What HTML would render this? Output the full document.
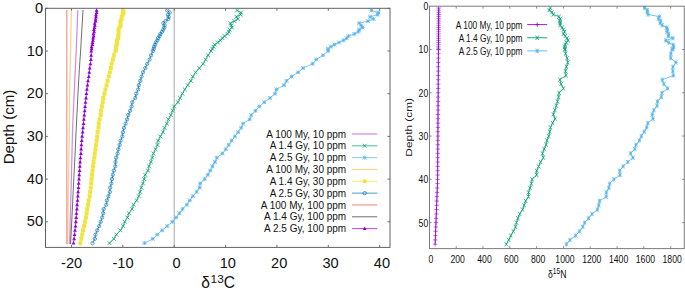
<!DOCTYPE html><html><head><meta charset="utf-8"><title>plot</title><style>html,body{margin:0;padding:0;background:#fff}</style></head><body><svg width="685" height="291" viewBox="0 0 685 291" style="display:block;font-family:'Liberation Sans',Arial,sans-serif">
<rect width="685" height="291" fill="#fff"/>
<line x1="174.2" y1="8.3" x2="174.2" y2="247.4" stroke="#a8a8a8" stroke-width="1"/>
<path d="M71.46 247.4v-2.6M71.46 8.3v2.6M122.83 247.4v-2.6M122.83 8.3v2.6M174.2 247.4v-2.6M174.2 8.3v2.6M225.57 247.4v-2.6M225.57 8.3v2.6M276.94 247.4v-2.6M276.94 8.3v2.6M328.31 247.4v-2.6M328.31 8.3v2.6M379.68 247.4v-2.6M379.68 8.3v2.6M45.5 8.3h2.6M390 8.3h-2.6M45.5 51h2.6M390 51h-2.6M45.5 93.69h2.6M390 93.69h-2.6M45.5 136.39h2.6M390 136.39h-2.6M45.5 179.09h2.6M390 179.09h-2.6M45.5 221.78h2.6M390 221.78h-2.6" stroke="#626262" stroke-width="0.9" fill="none"/>
<polyline points="77.83,10 77.71,13 77.59,16 77.47,19 77.35,22 77.24,25 77.12,28 77,31 76.88,34 76.76,37 76.64,40 76.52,43 76.4,46 76.28,49 76.15,52 76,55 75.85,58 75.7,61 75.55,64 75.4,67 75.25,70 75.1,73 74.97,76 74.83,79 74.7,82 74.57,85 74.43,88 74.3,91 74.17,94 74.03,97 73.89,100 73.75,103 73.61,106 73.48,109 73.34,112 73.2,115 73.06,118 72.92,121 72.78,124 72.65,127 72.55,130 72.48,133 72.41,136 72.34,139 72.27,142 72.2,145 72.13,148 72.06,151 71.99,154 71.92,157 71.85,160 71.77,163 71.69,166 71.62,169 71.54,172 71.46,175 71.39,178 71.31,181 71.23,184 71.15,187 71.08,190 71,193 70.92,196 70.84,199 70.75,202 70.67,205 70.59,208 70.51,211 70.42,214 70.34,217 70.26,220 70.18,223 70.09,226 70.01,229 69.93,232 69.85,235 69.76,238 69.68,241 69.6,244" fill="none" stroke="#9400D3" stroke-width="1.25" stroke-opacity="0.45" stroke-linejoin="round"/>
<polyline points="237.1,10.43 240.9,12.57 240.5,14.7 236.4,16.84 237.8,18.97 234.4,21.11 230.5,23.24 231.3,25.38 231.9,27.51 229.5,29.65 229,31.78 227.5,33.92 224.5,36.05 222.5,38.19 220.5,40.32 217.8,42.46 214.8,44.59 213.5,46.73 212.5,48.86 211,51 208.05,55.27 205.71,59.54 203.17,63.81 199.38,68.08 195.59,72.34 192.94,76.61 190.78,80.88 187.78,85.15 184.85,89.42 182.38,93.69 180.12,97.96 177.97,102.23 174.06,106.5 172.58,110.77 170.78,115.04 168.41,119.31 166.82,123.58 164.5,127.85 163.08,132.12 160.31,136.39 158.16,140.66 157.5,144.93 155.54,149.2 153.42,153.47 152.32,157.74 150.76,162.01 149.09,166.28 147.89,170.55 145.22,174.82 144.22,179.09 142.94,183.36 141.26,187.63 140.14,191.89 138.67,196.16 136.68,200.43 133.5,204.7 132.16,208.97 128.95,213.24 127.34,217.51 124.69,221.78 123.18,226.05 120.44,230.32 116.42,234.59 113.81,238.86 109.42,243.13" fill="none" stroke="#009E73" stroke-width="0.8" stroke-opacity="0.9" stroke-linejoin="round"/>
<path d="M235.2 8.53L239 12.33M235.2 12.33L239 8.53M239 10.67L242.8 14.47M239 14.47L242.8 10.67M238.6 12.8L242.4 16.6M238.6 16.6L242.4 12.8M234.5 14.94L238.3 18.74M234.5 18.74L238.3 14.94M235.9 17.07L239.7 20.87M235.9 20.87L239.7 17.07M232.5 19.21L236.3 23.01M232.5 23.01L236.3 19.21M228.6 21.34L232.4 25.14M228.6 25.14L232.4 21.34M229.4 23.48L233.2 27.28M229.4 27.28L233.2 23.48M230 25.61L233.8 29.41M230 29.41L233.8 25.61M227.6 27.75L231.4 31.55M227.6 31.55L231.4 27.75M227.1 29.88L230.9 33.68M227.1 33.68L230.9 29.88M225.6 32.02L229.4 35.82M225.6 35.82L229.4 32.02M222.6 34.15L226.4 37.95M222.6 37.95L226.4 34.15M220.6 36.29L224.4 40.09M220.6 40.09L224.4 36.29M218.6 38.42L222.4 42.22M218.6 42.22L222.4 38.42M215.9 40.56L219.7 44.36M215.9 44.36L219.7 40.56M212.9 42.69L216.7 46.49M212.9 46.49L216.7 42.69M211.6 44.83L215.4 48.63M211.6 48.63L215.4 44.83M210.6 46.96L214.4 50.76M210.6 50.76L214.4 46.96M209.1 49.1L212.9 52.9M209.1 52.9L212.9 49.1M206.15 53.37L209.95 57.17M206.15 57.17L209.95 53.37M203.81 57.64L207.61 61.44M203.81 61.44L207.61 57.64M201.27 61.91L205.07 65.71M201.27 65.71L205.07 61.91M197.48 66.17L201.28 69.98M197.48 69.98L201.28 66.17M193.69 70.44L197.49 74.24M193.69 74.24L197.49 70.44M191.04 74.71L194.84 78.51M191.04 78.51L194.84 74.71M188.88 78.98L192.68 82.78M188.88 82.78L192.68 78.98M185.88 83.25L189.68 87.05M185.88 87.05L189.68 83.25M182.95 87.52L186.75 91.32M182.95 91.32L186.75 87.52M180.48 91.79L184.28 95.59M180.48 95.59L184.28 91.79M178.22 96.06L182.02 99.86M178.22 99.86L182.02 96.06M176.07 100.33L179.87 104.13M176.07 104.13L179.87 100.33M172.16 104.6L175.96 108.4M172.16 108.4L175.96 104.6M170.68 108.87L174.48 112.67M170.68 112.67L174.48 108.87M168.88 113.14L172.68 116.94M168.88 116.94L172.68 113.14M166.51 117.41L170.31 121.21M166.51 121.21L170.31 117.41M164.92 121.68L168.72 125.48M164.92 125.48L168.72 121.68M162.6 125.95L166.4 129.75M162.6 129.75L166.4 125.95M161.18 130.22L164.98 134.02M161.18 134.02L164.98 130.22M158.41 134.49L162.21 138.29M158.41 138.29L162.21 134.49M156.26 138.76L160.06 142.56M156.26 142.56L160.06 138.76M155.6 143.03L159.4 146.83M155.6 146.83L159.4 143.03M153.64 147.3L157.44 151.1M153.64 151.1L157.44 147.3M151.52 151.57L155.32 155.37M151.52 155.37L155.32 151.57M150.42 155.84L154.22 159.64M150.42 159.64L154.22 155.84M148.86 160.11L152.66 163.91M148.86 163.91L152.66 160.11M147.19 164.38L150.99 168.18M147.19 168.18L150.99 164.38M145.99 168.65L149.79 172.45M145.99 172.45L149.79 168.65M143.32 172.92L147.12 176.72M143.32 176.72L147.12 172.92M142.32 177.19L146.12 180.99M142.32 180.99L146.12 177.19M141.04 181.46L144.84 185.26M141.04 185.26L144.84 181.46M139.36 185.73L143.16 189.53M139.36 189.53L143.16 185.73M138.24 189.99L142.04 193.79M138.24 193.79L142.04 189.99M136.77 194.26L140.57 198.06M136.77 198.06L140.57 194.26M134.78 198.53L138.58 202.33M134.78 202.33L138.58 198.53M131.6 202.8L135.4 206.6M131.6 206.6L135.4 202.8M130.26 207.07L134.06 210.87M130.26 210.87L134.06 207.07M127.05 211.34L130.85 215.14M127.05 215.14L130.85 211.34M125.44 215.61L129.24 219.41M125.44 219.41L129.24 215.61M122.79 219.88L126.59 223.68M122.79 223.68L126.59 219.88M121.28 224.15L125.08 227.95M121.28 227.95L125.08 224.15M118.54 228.42L122.34 232.22M118.54 232.22L122.34 228.42M114.52 232.69L118.32 236.49M114.52 236.49L118.32 232.69M111.91 236.96L115.71 240.76M111.91 240.76L115.71 236.96M107.52 241.23L111.32 245.03M107.52 245.03L111.32 241.23" fill="none" stroke="#009E73" stroke-width="0.8"/>
<polyline points="371.5,10.43 378.3,12.57 377.6,14.7 370.1,16.84 373.5,18.97 368,21.11 359.1,23.24 361.2,25.38 362.5,27.51 359.1,29.65 358.4,31.78 354.3,33.92 348.5,36.05 346.5,38.19 343.5,40.32 339,42.46 334.5,44.59 331,46.73 327.9,48.86 328.2,51 322.94,55.27 316.27,59.54 312.59,63.81 303.06,68.08 298.13,72.34 291.58,76.61 286.52,80.88 284.05,85.15 276.51,89.42 275.06,93.69 270.07,97.96 264.25,102.23 259.31,106.5 255.51,110.77 251.26,115.04 249.73,119.31 243.03,123.58 241.14,127.85 238.15,132.12 234.93,136.39 231.6,140.66 228.66,144.93 225.81,149.2 222.36,153.47 216.88,157.74 214.96,162.01 212.51,166.28 210.25,170.55 207.87,174.82 204.59,179.09 200.16,183.36 199.7,187.63 196.68,191.89 192.9,196.16 189.79,200.43 186.88,204.7 182.54,208.97 179.39,213.24 176.09,217.51 172.25,221.78 167.25,226.05 162.1,230.32 157.22,234.59 152.75,238.86 144.52,243.13" fill="none" stroke="#56B4E9" stroke-width="0.8" stroke-opacity="0.9" stroke-linejoin="round"/>
<path d="M369.6 10.43H373.4M371.5 8.53V12.33M369.6 8.53L373.4 12.33M369.6 12.33L373.4 8.53M376.4 12.57H380.2M378.3 10.67V14.47M376.4 10.67L380.2 14.47M376.4 14.47L380.2 10.67M375.7 14.7H379.5M377.6 12.8V16.6M375.7 12.8L379.5 16.6M375.7 16.6L379.5 12.8M368.2 16.84H372M370.1 14.94V18.74M368.2 14.94L372 18.74M368.2 18.74L372 14.94M371.6 18.97H375.4M373.5 17.07V20.87M371.6 17.07L375.4 20.87M371.6 20.87L375.4 17.07M366.1 21.11H369.9M368 19.21V23.01M366.1 19.21L369.9 23.01M366.1 23.01L369.9 19.21M357.2 23.24H361M359.1 21.34V25.14M357.2 21.34L361 25.14M357.2 25.14L361 21.34M359.3 25.38H363.1M361.2 23.48V27.28M359.3 23.48L363.1 27.28M359.3 27.28L363.1 23.48M360.6 27.51H364.4M362.5 25.61V29.41M360.6 25.61L364.4 29.41M360.6 29.41L364.4 25.61M357.2 29.65H361M359.1 27.75V31.55M357.2 27.75L361 31.55M357.2 31.55L361 27.75M356.5 31.78H360.3M358.4 29.88V33.68M356.5 29.88L360.3 33.68M356.5 33.68L360.3 29.88M352.4 33.92H356.2M354.3 32.02V35.82M352.4 32.02L356.2 35.82M352.4 35.82L356.2 32.02M346.6 36.05H350.4M348.5 34.15V37.95M346.6 34.15L350.4 37.95M346.6 37.95L350.4 34.15M344.6 38.19H348.4M346.5 36.29V40.09M344.6 36.29L348.4 40.09M344.6 40.09L348.4 36.29M341.6 40.32H345.4M343.5 38.42V42.22M341.6 38.42L345.4 42.22M341.6 42.22L345.4 38.42M337.1 42.46H340.9M339 40.56V44.36M337.1 40.56L340.9 44.36M337.1 44.36L340.9 40.56M332.6 44.59H336.4M334.5 42.69V46.49M332.6 42.69L336.4 46.49M332.6 46.49L336.4 42.69M329.1 46.73H332.9M331 44.83V48.63M329.1 44.83L332.9 48.63M329.1 48.63L332.9 44.83M326 48.86H329.8M327.9 46.96V50.76M326 46.96L329.8 50.76M326 50.76L329.8 46.96M326.3 51H330.1M328.2 49.1V52.9M326.3 49.1L330.1 52.9M326.3 52.9L330.1 49.1M321.04 55.27H324.84M322.94 53.37V57.17M321.04 53.37L324.84 57.17M321.04 57.17L324.84 53.37M314.37 59.54H318.17M316.27 57.64V61.44M314.37 57.64L318.17 61.44M314.37 61.44L318.17 57.64M310.69 63.81H314.49M312.59 61.91V65.71M310.69 61.91L314.49 65.71M310.69 65.71L314.49 61.91M301.16 68.08H304.96M303.06 66.17V69.98M301.16 66.17L304.96 69.98M301.16 69.98L304.96 66.17M296.23 72.34H300.03M298.13 70.44V74.24M296.23 70.44L300.03 74.24M296.23 74.24L300.03 70.44M289.68 76.61H293.48M291.58 74.71V78.51M289.68 74.71L293.48 78.51M289.68 78.51L293.48 74.71M284.62 80.88H288.42M286.52 78.98V82.78M284.62 78.98L288.42 82.78M284.62 82.78L288.42 78.98M282.15 85.15H285.95M284.05 83.25V87.05M282.15 83.25L285.95 87.05M282.15 87.05L285.95 83.25M274.61 89.42H278.41M276.51 87.52V91.32M274.61 87.52L278.41 91.32M274.61 91.32L278.41 87.52M273.16 93.69H276.96M275.06 91.79V95.59M273.16 91.79L276.96 95.59M273.16 95.59L276.96 91.79M268.17 97.96H271.97M270.07 96.06V99.86M268.17 96.06L271.97 99.86M268.17 99.86L271.97 96.06M262.35 102.23H266.15M264.25 100.33V104.13M262.35 100.33L266.15 104.13M262.35 104.13L266.15 100.33M257.41 106.5H261.21M259.31 104.6V108.4M257.41 104.6L261.21 108.4M257.41 108.4L261.21 104.6M253.61 110.77H257.41M255.51 108.87V112.67M253.61 108.87L257.41 112.67M253.61 112.67L257.41 108.87M249.36 115.04H253.16M251.26 113.14V116.94M249.36 113.14L253.16 116.94M249.36 116.94L253.16 113.14M247.83 119.31H251.63M249.73 117.41V121.21M247.83 117.41L251.63 121.21M247.83 121.21L251.63 117.41M241.13 123.58H244.93M243.03 121.68V125.48M241.13 121.68L244.93 125.48M241.13 125.48L244.93 121.68M239.24 127.85H243.04M241.14 125.95V129.75M239.24 125.95L243.04 129.75M239.24 129.75L243.04 125.95M236.25 132.12H240.05M238.15 130.22V134.02M236.25 130.22L240.05 134.02M236.25 134.02L240.05 130.22M233.03 136.39H236.83M234.93 134.49V138.29M233.03 134.49L236.83 138.29M233.03 138.29L236.83 134.49M229.7 140.66H233.5M231.6 138.76V142.56M229.7 138.76L233.5 142.56M229.7 142.56L233.5 138.76M226.76 144.93H230.56M228.66 143.03V146.83M226.76 143.03L230.56 146.83M226.76 146.83L230.56 143.03M223.91 149.2H227.71M225.81 147.3V151.1M223.91 147.3L227.71 151.1M223.91 151.1L227.71 147.3M220.46 153.47H224.26M222.36 151.57V155.37M220.46 151.57L224.26 155.37M220.46 155.37L224.26 151.57M214.98 157.74H218.78M216.88 155.84V159.64M214.98 155.84L218.78 159.64M214.98 159.64L218.78 155.84M213.06 162.01H216.86M214.96 160.11V163.91M213.06 160.11L216.86 163.91M213.06 163.91L216.86 160.11M210.61 166.28H214.41M212.51 164.38V168.18M210.61 164.38L214.41 168.18M210.61 168.18L214.41 164.38M208.35 170.55H212.15M210.25 168.65V172.45M208.35 168.65L212.15 172.45M208.35 172.45L212.15 168.65M205.97 174.82H209.77M207.87 172.92V176.72M205.97 172.92L209.77 176.72M205.97 176.72L209.77 172.92M202.69 179.09H206.49M204.59 177.19V180.99M202.69 177.19L206.49 180.99M202.69 180.99L206.49 177.19M198.26 183.36H202.06M200.16 181.46V185.26M198.26 181.46L202.06 185.26M198.26 185.26L202.06 181.46M197.8 187.63H201.6M199.7 185.73V189.53M197.8 185.73L201.6 189.53M197.8 189.53L201.6 185.73M194.78 191.89H198.58M196.68 189.99V193.79M194.78 189.99L198.58 193.79M194.78 193.79L198.58 189.99M191 196.16H194.8M192.9 194.26V198.06M191 194.26L194.8 198.06M191 198.06L194.8 194.26M187.89 200.43H191.69M189.79 198.53V202.33M187.89 198.53L191.69 202.33M187.89 202.33L191.69 198.53M184.98 204.7H188.78M186.88 202.8V206.6M184.98 202.8L188.78 206.6M184.98 206.6L188.78 202.8M180.64 208.97H184.44M182.54 207.07V210.87M180.64 207.07L184.44 210.87M180.64 210.87L184.44 207.07M177.49 213.24H181.29M179.39 211.34V215.14M177.49 211.34L181.29 215.14M177.49 215.14L181.29 211.34M174.19 217.51H177.99M176.09 215.61V219.41M174.19 215.61L177.99 219.41M174.19 219.41L177.99 215.61M170.35 221.78H174.15M172.25 219.88V223.68M170.35 219.88L174.15 223.68M170.35 223.68L174.15 219.88M165.35 226.05H169.15M167.25 224.15V227.95M165.35 224.15L169.15 227.95M165.35 227.95L169.15 224.15M160.2 230.32H164M162.1 228.42V232.22M160.2 228.42L164 232.22M160.2 232.22L164 228.42M155.32 234.59H159.12M157.22 232.69V236.49M155.32 232.69L159.12 236.49M155.32 236.49L159.12 232.69M150.85 238.86H154.65M152.75 236.96V240.76M150.85 236.96L154.65 240.76M150.85 240.76L154.65 236.96M142.62 243.13H146.42M144.52 241.23V245.03M142.62 241.23L146.42 245.03M142.62 245.03L146.42 241.23" fill="none" stroke="#56B4E9" stroke-width="0.8"/>
<polyline points="71.37,10 71.31,13 71.25,16 71.19,19 71.12,22 71.06,25 71,28 70.94,31 70.88,34 70.82,37 70.76,40 70.7,43 70.64,46 70.58,49 70.52,52 70.46,55 70.4,58 70.34,61 70.28,64 70.22,67 70.16,70 70.1,73 70.03,76 69.95,79 69.88,82 69.8,85 69.73,88 69.66,91 69.6,94 69.57,97 69.55,100 69.53,103 69.51,106 69.49,109 69.47,112 69.45,115 69.43,118 69.41,121 69.38,124 69.36,127 69.34,130 69.32,133 69.3,136 69.25,139 69.19,142 69.14,145 69.08,148 69.03,151 68.97,154 68.92,157 68.86,160 68.81,163 68.75,166 68.7,169 68.65,172 68.59,175 68.54,178 68.49,181 68.46,184 68.42,187 68.39,190 68.36,193 68.33,196 68.29,199 68.26,202 68.23,205 68.19,208 68.16,211 68.13,214 68.1,217 68.06,220 68.03,223 68,226 67.96,229 67.93,232 67.9,235 67.87,238 67.83,241 67.8,244" fill="none" stroke="#E69F00" stroke-width="1.25" stroke-opacity="0.45" stroke-linejoin="round"/>
<polyline points="123,10.43 123.62,12.57 122.66,14.7 121.58,16.84 121.7,18.97 120.77,21.11 120.37,23.24 120.61,25.38 119.5,27.51 118.51,29.65 118.48,31.78 118.56,33.92 118.17,36.05 118.31,38.19 116.92,40.32 117.23,42.46 116.66,44.59 115.96,46.73 116.03,48.86 115.45,51 113.91,55.27 112.96,59.54 111.67,63.81 110.84,68.08 109.85,72.34 108.81,76.61 107.55,80.88 106.52,85.15 105.39,89.42 104.45,93.69 103.43,97.96 102.74,102.23 101.9,106.5 100.97,110.77 100.66,115.04 99.52,119.31 98.73,123.58 98.52,127.85 97.63,132.12 97.23,136.39 96.72,140.66 95.96,144.93 95.41,149.2 94.82,153.47 94.3,157.74 93.54,162.01 93.01,166.28 92.57,170.55 92.15,174.82 91.52,179.09 91.27,183.36 90.76,187.63 90.23,191.89 89.63,196.16 88.63,200.43 88.01,204.7 87.25,208.97 86.66,213.24 85.96,217.51 85.05,221.78 84.09,226.05 83,230.32 82.21,234.59 81.29,238.86 80.35,243.13" fill="none" stroke="#F0E442" stroke-width="0.8" stroke-opacity="0.9" stroke-linejoin="round"/>
<path d="M121 8.43h4v4h-4zM121.62 10.57h4v4h-4zM120.66 12.7h4v4h-4zM119.58 14.84h4v4h-4zM119.7 16.97h4v4h-4zM118.77 19.11h4v4h-4zM118.37 21.24h4v4h-4zM118.61 23.38h4v4h-4zM117.5 25.51h4v4h-4zM116.51 27.65h4v4h-4zM116.48 29.78h4v4h-4zM116.56 31.92h4v4h-4zM116.17 34.05h4v4h-4zM116.31 36.19h4v4h-4zM114.92 38.32h4v4h-4zM115.23 40.46h4v4h-4zM114.66 42.59h4v4h-4zM113.96 44.73h4v4h-4zM114.03 46.86h4v4h-4zM113.45 49h4v4h-4zM111.91 53.27h4v4h-4zM110.96 57.54h4v4h-4zM109.67 61.81h4v4h-4zM108.84 66.08h4v4h-4zM107.85 70.34h4v4h-4zM106.81 74.61h4v4h-4zM105.55 78.88h4v4h-4zM104.52 83.15h4v4h-4zM103.39 87.42h4v4h-4zM102.45 91.69h4v4h-4zM101.43 95.96h4v4h-4zM100.74 100.23h4v4h-4zM99.9 104.5h4v4h-4zM98.97 108.77h4v4h-4zM98.66 113.04h4v4h-4zM97.52 117.31h4v4h-4zM96.73 121.58h4v4h-4zM96.52 125.85h4v4h-4zM95.63 130.12h4v4h-4zM95.23 134.39h4v4h-4zM94.72 138.66h4v4h-4zM93.96 142.93h4v4h-4zM93.41 147.2h4v4h-4zM92.82 151.47h4v4h-4zM92.3 155.74h4v4h-4zM91.54 160.01h4v4h-4zM91.01 164.28h4v4h-4zM90.57 168.55h4v4h-4zM90.15 172.82h4v4h-4zM89.52 177.09h4v4h-4zM89.27 181.36h4v4h-4zM88.76 185.63h4v4h-4zM88.23 189.89h4v4h-4zM87.63 194.16h4v4h-4zM86.63 198.43h4v4h-4zM86.01 202.7h4v4h-4zM85.25 206.97h4v4h-4zM84.66 211.24h4v4h-4zM83.96 215.51h4v4h-4zM83.05 219.78h4v4h-4zM82.09 224.05h4v4h-4zM81 228.32h4v4h-4zM80.21 232.59h4v4h-4zM79.29 236.86h4v4h-4zM78.35 241.13h4v4h-4z" fill="#F0E442" stroke="none"/>
<polyline points="167.3,10.43 169.7,12.57 168,14.7 168.6,16.84 168.4,18.97 165.5,21.11 163.2,23.24 164.6,25.38 164.3,27.51 163.2,29.65 162,31.78 160.4,33.92 159.6,36.05 158.1,38.19 157.3,40.32 155.8,42.46 155.1,44.59 154,46.73 153.7,48.86 152.8,51 151.08,55.27 149.55,59.54 147.19,63.81 145.28,68.08 143.03,72.34 141.52,76.61 140.3,80.88 138.82,85.15 138.23,89.42 136.3,93.69 135.31,97.96 132.28,102.23 131.56,106.5 130.14,110.77 128.26,115.04 127.11,119.31 125.61,123.58 124,127.85 122.92,132.12 122.39,136.39 120.57,140.66 119.6,144.93 118.36,149.2 117.56,153.47 116.11,157.74 115.47,162.01 115.34,166.28 113.9,170.55 112.77,174.82 111.93,179.09 111.38,183.36 110.18,187.63 109.88,191.89 108.46,196.16 106.97,200.43 106.28,204.7 103.76,208.97 103.14,213.24 102.22,217.51 100.64,221.78 99.16,226.05 97.26,230.32 95.52,234.59 94.87,238.86 92.46,243.13" fill="none" stroke="#0072B2" stroke-width="0.8" stroke-opacity="0.9" stroke-linejoin="round"/>
<path d="M165.65 10.43a1.65 1.65 0 1 0 3.3 0a1.65 1.65 0 1 0 -3.3 0M168.05 12.57a1.65 1.65 0 1 0 3.3 0a1.65 1.65 0 1 0 -3.3 0M166.35 14.7a1.65 1.65 0 1 0 3.3 0a1.65 1.65 0 1 0 -3.3 0M166.95 16.84a1.65 1.65 0 1 0 3.3 0a1.65 1.65 0 1 0 -3.3 0M166.75 18.97a1.65 1.65 0 1 0 3.3 0a1.65 1.65 0 1 0 -3.3 0M163.85 21.11a1.65 1.65 0 1 0 3.3 0a1.65 1.65 0 1 0 -3.3 0M161.55 23.24a1.65 1.65 0 1 0 3.3 0a1.65 1.65 0 1 0 -3.3 0M162.95 25.38a1.65 1.65 0 1 0 3.3 0a1.65 1.65 0 1 0 -3.3 0M162.65 27.51a1.65 1.65 0 1 0 3.3 0a1.65 1.65 0 1 0 -3.3 0M161.55 29.65a1.65 1.65 0 1 0 3.3 0a1.65 1.65 0 1 0 -3.3 0M160.35 31.78a1.65 1.65 0 1 0 3.3 0a1.65 1.65 0 1 0 -3.3 0M158.75 33.92a1.65 1.65 0 1 0 3.3 0a1.65 1.65 0 1 0 -3.3 0M157.95 36.05a1.65 1.65 0 1 0 3.3 0a1.65 1.65 0 1 0 -3.3 0M156.45 38.19a1.65 1.65 0 1 0 3.3 0a1.65 1.65 0 1 0 -3.3 0M155.65 40.32a1.65 1.65 0 1 0 3.3 0a1.65 1.65 0 1 0 -3.3 0M154.15 42.46a1.65 1.65 0 1 0 3.3 0a1.65 1.65 0 1 0 -3.3 0M153.45 44.59a1.65 1.65 0 1 0 3.3 0a1.65 1.65 0 1 0 -3.3 0M152.35 46.73a1.65 1.65 0 1 0 3.3 0a1.65 1.65 0 1 0 -3.3 0M152.05 48.86a1.65 1.65 0 1 0 3.3 0a1.65 1.65 0 1 0 -3.3 0M151.15 51a1.65 1.65 0 1 0 3.3 0a1.65 1.65 0 1 0 -3.3 0M149.43 55.27a1.65 1.65 0 1 0 3.3 0a1.65 1.65 0 1 0 -3.3 0M147.9 59.54a1.65 1.65 0 1 0 3.3 0a1.65 1.65 0 1 0 -3.3 0M145.54 63.81a1.65 1.65 0 1 0 3.3 0a1.65 1.65 0 1 0 -3.3 0M143.63 68.08a1.65 1.65 0 1 0 3.3 0a1.65 1.65 0 1 0 -3.3 0M141.38 72.34a1.65 1.65 0 1 0 3.3 0a1.65 1.65 0 1 0 -3.3 0M139.87 76.61a1.65 1.65 0 1 0 3.3 0a1.65 1.65 0 1 0 -3.3 0M138.65 80.88a1.65 1.65 0 1 0 3.3 0a1.65 1.65 0 1 0 -3.3 0M137.17 85.15a1.65 1.65 0 1 0 3.3 0a1.65 1.65 0 1 0 -3.3 0M136.58 89.42a1.65 1.65 0 1 0 3.3 0a1.65 1.65 0 1 0 -3.3 0M134.65 93.69a1.65 1.65 0 1 0 3.3 0a1.65 1.65 0 1 0 -3.3 0M133.66 97.96a1.65 1.65 0 1 0 3.3 0a1.65 1.65 0 1 0 -3.3 0M130.63 102.23a1.65 1.65 0 1 0 3.3 0a1.65 1.65 0 1 0 -3.3 0M129.91 106.5a1.65 1.65 0 1 0 3.3 0a1.65 1.65 0 1 0 -3.3 0M128.49 110.77a1.65 1.65 0 1 0 3.3 0a1.65 1.65 0 1 0 -3.3 0M126.61 115.04a1.65 1.65 0 1 0 3.3 0a1.65 1.65 0 1 0 -3.3 0M125.46 119.31a1.65 1.65 0 1 0 3.3 0a1.65 1.65 0 1 0 -3.3 0M123.96 123.58a1.65 1.65 0 1 0 3.3 0a1.65 1.65 0 1 0 -3.3 0M122.35 127.85a1.65 1.65 0 1 0 3.3 0a1.65 1.65 0 1 0 -3.3 0M121.27 132.12a1.65 1.65 0 1 0 3.3 0a1.65 1.65 0 1 0 -3.3 0M120.74 136.39a1.65 1.65 0 1 0 3.3 0a1.65 1.65 0 1 0 -3.3 0M118.92 140.66a1.65 1.65 0 1 0 3.3 0a1.65 1.65 0 1 0 -3.3 0M117.95 144.93a1.65 1.65 0 1 0 3.3 0a1.65 1.65 0 1 0 -3.3 0M116.71 149.2a1.65 1.65 0 1 0 3.3 0a1.65 1.65 0 1 0 -3.3 0M115.91 153.47a1.65 1.65 0 1 0 3.3 0a1.65 1.65 0 1 0 -3.3 0M114.46 157.74a1.65 1.65 0 1 0 3.3 0a1.65 1.65 0 1 0 -3.3 0M113.82 162.01a1.65 1.65 0 1 0 3.3 0a1.65 1.65 0 1 0 -3.3 0M113.69 166.28a1.65 1.65 0 1 0 3.3 0a1.65 1.65 0 1 0 -3.3 0M112.25 170.55a1.65 1.65 0 1 0 3.3 0a1.65 1.65 0 1 0 -3.3 0M111.12 174.82a1.65 1.65 0 1 0 3.3 0a1.65 1.65 0 1 0 -3.3 0M110.28 179.09a1.65 1.65 0 1 0 3.3 0a1.65 1.65 0 1 0 -3.3 0M109.73 183.36a1.65 1.65 0 1 0 3.3 0a1.65 1.65 0 1 0 -3.3 0M108.53 187.63a1.65 1.65 0 1 0 3.3 0a1.65 1.65 0 1 0 -3.3 0M108.23 191.89a1.65 1.65 0 1 0 3.3 0a1.65 1.65 0 1 0 -3.3 0M106.81 196.16a1.65 1.65 0 1 0 3.3 0a1.65 1.65 0 1 0 -3.3 0M105.32 200.43a1.65 1.65 0 1 0 3.3 0a1.65 1.65 0 1 0 -3.3 0M104.63 204.7a1.65 1.65 0 1 0 3.3 0a1.65 1.65 0 1 0 -3.3 0M102.11 208.97a1.65 1.65 0 1 0 3.3 0a1.65 1.65 0 1 0 -3.3 0M101.49 213.24a1.65 1.65 0 1 0 3.3 0a1.65 1.65 0 1 0 -3.3 0M100.57 217.51a1.65 1.65 0 1 0 3.3 0a1.65 1.65 0 1 0 -3.3 0M98.99 221.78a1.65 1.65 0 1 0 3.3 0a1.65 1.65 0 1 0 -3.3 0M97.51 226.05a1.65 1.65 0 1 0 3.3 0a1.65 1.65 0 1 0 -3.3 0M95.61 230.32a1.65 1.65 0 1 0 3.3 0a1.65 1.65 0 1 0 -3.3 0M93.87 234.59a1.65 1.65 0 1 0 3.3 0a1.65 1.65 0 1 0 -3.3 0M93.22 238.86a1.65 1.65 0 1 0 3.3 0a1.65 1.65 0 1 0 -3.3 0M90.81 243.13a1.65 1.65 0 1 0 3.3 0a1.65 1.65 0 1 0 -3.3 0" fill="none" stroke="#0072B2" stroke-width="0.65"/>
<polyline points="66.8,10 66.8,13 66.8,16 66.8,19 66.8,22 66.8,25 66.8,28 66.8,31 66.8,34 66.8,37 66.8,40 66.8,43 66.8,46 66.8,49 66.8,52 66.8,55 66.8,58 66.8,61 66.8,64 66.8,67 66.8,70 66.8,73 66.8,76 66.8,79 66.8,82 66.8,85 66.8,88 66.8,91 66.8,94 66.8,97 66.8,100 66.8,103 66.8,106 66.8,109 66.8,112 66.8,115 66.8,118 66.8,121 66.8,124 66.8,127 66.8,130 66.8,133 66.8,136 66.8,139 66.8,142 66.8,145 66.8,148 66.8,151 66.8,154 66.8,157 66.8,160 66.8,163 66.8,166 66.8,169 66.8,172 66.8,175 66.8,178 66.8,181 66.8,184 66.8,187 66.8,190 66.8,193 66.8,196 66.8,199 66.8,202 66.8,205 66.8,208 66.8,211 66.8,214 66.8,217 66.8,220 66.8,223 66.8,226 66.8,229 66.8,232 66.8,235 66.8,238 66.8,241 66.8,244" fill="none" stroke="#E51E10" stroke-width="1.25" stroke-opacity="0.45" stroke-linejoin="round"/>
<polyline points="83,10 82.82,13 82.65,16 82.47,19 82.3,22 82.12,25 81.95,28 81.77,31 81.6,34 81.42,37 81.24,40 81.07,43 80.89,46 80.72,49 80.53,52 80.33,55 80.12,58 79.92,61 79.71,64 79.51,67 79.3,70 79.1,73 78.94,76 78.77,79 78.61,82 78.45,85 78.29,88 78.12,91 77.96,94 77.81,97 77.66,100 77.51,103 77.36,106 77.21,109 77.06,112 76.9,115 76.75,118 76.6,121 76.45,124 76.31,127 76.17,130 76.03,133 75.89,136 75.75,139 75.61,142 75.47,145 75.33,148 75.19,151 75.05,154 74.9,157 74.75,160 74.6,163 74.45,166 74.3,169 74.15,172 74,175 73.85,178 73.7,181 73.55,184 73.4,187 73.26,190 73.11,193 72.96,196 72.82,199 72.67,202 72.53,205 72.38,208 72.24,211 72.09,214 71.94,217 71.8,220 71.65,223 71.5,226 71.35,229 71.2,232 71.05,235 70.9,238 70.75,241 70.6,244" fill="none" stroke="#000000" stroke-width="0.95" stroke-opacity="0.6" stroke-linejoin="round"/>
<polyline points="96.61,10.43 96.64,12.57 96.02,14.7 95.99,16.84 95.6,18.97 95.61,21.11 94.66,23.24 94.87,25.38 94.45,27.51 93.9,29.65 94.11,31.78 93.41,33.92 93.68,36.05 93.16,38.19 92.93,40.32 92.52,42.46 92.42,44.59 91.54,46.73 91.69,48.86 91.26,51 91.18,55.27 90.92,59.54 90.41,63.81 89.74,68.08 89.29,72.34 88.75,76.61 88.04,80.88 87.48,85.15 86.93,89.42 86.43,93.69 86.07,97.96 85.5,102.23 85.13,106.5 84.71,110.77 84.3,115.04 83.87,119.31 83.52,123.58 82.97,127.85 82.64,132.12 82.14,136.39 81.72,140.66 81.4,144.93 81.11,149.2 80.9,153.47 80.46,157.74 80.11,162.01 79.87,166.28 79.58,170.55 79.2,174.82 79.01,179.09 78.68,183.36 78.44,187.63 78.12,191.89 77.86,196.16 77.53,200.43 77.08,204.7 76.9,208.97 76.46,213.24 76.23,217.51 75.83,221.78 75.56,226.05 75,230.32 74.57,234.59 74.11,238.86 73.52,243.13" fill="none" stroke="#9400D3" stroke-width="0.8" stroke-opacity="0.9" stroke-linejoin="round"/>
<path d="M96.61 8.34L98.51 11.86L94.71 11.86zM96.64 10.48L98.54 13.99L94.74 13.99zM96.02 12.61L97.92 16.13L94.12 16.13zM95.99 14.75L97.89 18.26L94.09 18.26zM95.6 16.88L97.5 20.4L93.7 20.4zM95.61 19.02L97.51 22.53L93.71 22.53zM94.66 21.15L96.56 24.67L92.76 24.67zM94.87 23.29L96.77 26.8L92.97 26.8zM94.45 25.42L96.35 28.94L92.55 28.94zM93.9 27.56L95.8 31.07L92 31.07zM94.11 29.69L96.01 33.21L92.21 33.21zM93.41 31.83L95.31 35.34L91.51 35.34zM93.68 33.96L95.58 37.48L91.78 37.48zM93.16 36.1L95.06 39.61L91.26 39.61zM92.93 38.23L94.83 41.75L91.03 41.75zM92.52 40.37L94.42 43.88L90.62 43.88zM92.42 42.5L94.32 46.02L90.52 46.02zM91.54 44.64L93.44 48.15L89.64 48.15zM91.69 46.77L93.59 50.29L89.79 50.29zM91.26 48.91L93.16 52.42L89.36 52.42zM91.18 53.18L93.08 56.69L89.28 56.69zM90.92 57.45L92.82 60.96L89.02 60.96zM90.41 61.72L92.31 65.23L88.51 65.23zM89.74 65.98L91.64 69.5L87.84 69.5zM89.29 70.25L91.19 73.77L87.39 73.77zM88.75 74.52L90.65 78.04L86.85 78.04zM88.04 78.79L89.94 82.31L86.14 82.31zM87.48 83.06L89.38 86.58L85.58 86.58zM86.93 87.33L88.83 90.85L85.03 90.85zM86.43 91.6L88.33 95.12L84.53 95.12zM86.07 95.87L87.97 99.39L84.17 99.39zM85.5 100.14L87.4 103.66L83.6 103.66zM85.13 104.41L87.03 107.93L83.23 107.93zM84.71 108.68L86.61 112.2L82.81 112.2zM84.3 112.95L86.2 116.47L82.4 116.47zM83.87 117.22L85.77 120.74L81.97 120.74zM83.52 121.49L85.42 125.01L81.62 125.01zM82.97 125.76L84.87 129.28L81.07 129.28zM82.64 130.03L84.54 133.54L80.74 133.54zM82.14 134.3L84.04 137.81L80.24 137.81zM81.72 138.57L83.62 142.08L79.82 142.08zM81.4 142.84L83.3 146.35L79.5 146.35zM81.11 147.11L83.01 150.62L79.21 150.62zM80.9 151.38L82.8 154.89L79 154.89zM80.46 155.65L82.36 159.16L78.56 159.16zM80.11 159.92L82.01 163.43L78.21 163.43zM79.87 164.19L81.77 167.7L77.97 167.7zM79.58 168.46L81.48 171.97L77.68 171.97zM79.2 172.73L81.1 176.24L77.3 176.24zM79.01 177L80.91 180.51L77.11 180.51zM78.68 181.27L80.58 184.78L76.78 184.78zM78.44 185.54L80.34 189.05L76.54 189.05zM78.12 189.8L80.02 193.32L76.22 193.32zM77.86 194.07L79.76 197.59L75.96 197.59zM77.53 198.34L79.43 201.86L75.63 201.86zM77.08 202.61L78.98 206.13L75.18 206.13zM76.9 206.88L78.8 210.4L75 210.4zM76.46 211.15L78.36 214.67L74.56 214.67zM76.23 215.42L78.13 218.94L74.33 218.94zM75.83 219.69L77.73 223.21L73.93 223.21zM75.56 223.96L77.46 227.48L73.66 227.48zM75 228.23L76.9 231.75L73.1 231.75zM74.57 232.5L76.47 236.02L72.67 236.02zM74.11 236.77L76.01 240.29L72.21 240.29zM73.52 241.04L75.42 244.56L71.62 244.56z" fill="#9400D3" stroke="none"/>
<rect x="45.5" y="8.3" width="344.5" height="239.1" fill="none" stroke="#626262" stroke-width="1"/>
<text x="71.66" y="267.6" font-size="14.6" text-anchor="middle" fill="#111">-20</text>
<text x="123.03" y="267.6" font-size="14.6" text-anchor="middle" fill="#111">-10</text>
<text x="176.5" y="267.6" font-size="14.6" text-anchor="middle" fill="#111">0</text>
<text x="227.87" y="267.6" font-size="14.6" text-anchor="middle" fill="#111">10</text>
<text x="279.24" y="267.6" font-size="14.6" text-anchor="middle" fill="#111">20</text>
<text x="330.61" y="267.6" font-size="14.6" text-anchor="middle" fill="#111">30</text>
<text x="381.98" y="267.6" font-size="14.6" text-anchor="middle" fill="#111">40</text>
<text x="43.0" y="12.9" font-size="14.6" text-anchor="end" fill="#111">0</text>
<text x="43.0" y="55.6" font-size="14.6" text-anchor="end" fill="#111">10</text>
<text x="43.0" y="98.29" font-size="14.6" text-anchor="end" fill="#111">20</text>
<text x="43.0" y="140.99" font-size="14.6" text-anchor="end" fill="#111">30</text>
<text x="43.0" y="183.69" font-size="14.6" text-anchor="end" fill="#111">40</text>
<text x="43.0" y="226.38" font-size="14.6" text-anchor="end" fill="#111">50</text>
<text transform="translate(14,127) rotate(-90)" font-size="15.1" text-anchor="middle" fill="#111">Depth (cm)</text>
<text x="201.3" y="288" font-size="15.6" text-anchor="start" fill="#111">δ<tspan dx="0.6" dy="-5.4" font-size="11.8">13</tspan><tspan dy="5.4">C</tspan></text>
<text x="346.2" y="137.6" font-size="10" text-anchor="end" fill="#111">A 100 My, 10 ppm</text>
<line x1="352" y1="134" x2="377.3" y2="134" stroke="#9400D3" stroke-width="1.25" stroke-opacity="0.45"/>
<text x="346.2" y="149.43" font-size="10" text-anchor="end" fill="#111">A 1.4 Gy, 10 ppm</text>
<line x1="352" y1="145.83" x2="377.3" y2="145.83" stroke="#009E73" stroke-width="0.8" stroke-opacity="0.9"/>
<path d="M362.7 143.83L366.7 147.83M362.7 147.83L366.7 143.83" fill="none" stroke="#009E73" stroke-width="0.7"/>
<text x="346.2" y="161.26" font-size="10" text-anchor="end" fill="#111">A 2.5 Gy, 10 ppm</text>
<line x1="352" y1="157.66" x2="377.3" y2="157.66" stroke="#56B4E9" stroke-width="0.8" stroke-opacity="0.9"/>
<path d="M362.7 157.66H366.7M364.7 155.66V159.66M362.7 155.66L366.7 159.66M362.7 159.66L366.7 155.66" fill="none" stroke="#56B4E9" stroke-width="0.7"/>
<text x="346.2" y="173.09" font-size="10" text-anchor="end" fill="#111">A 100 My, 30 ppm</text>
<line x1="352" y1="169.49" x2="377.3" y2="169.49" stroke="#E69F00" stroke-width="1.25" stroke-opacity="0.45"/>
<text x="346.2" y="184.92" font-size="10" text-anchor="end" fill="#111">A 1.4 Gy, 30 ppm</text>
<line x1="352" y1="181.32" x2="377.3" y2="181.32" stroke="#F0E442" stroke-width="0.8" stroke-opacity="0.9"/>
<path d="M362.8 179.42h3.8v3.8h-3.8z" fill="#F0E442" stroke="none"/>
<text x="346.2" y="196.75" font-size="10" text-anchor="end" fill="#111">A 2.5 Gy, 30 ppm</text>
<line x1="352" y1="193.15" x2="377.3" y2="193.15" stroke="#0072B2" stroke-width="0.8" stroke-opacity="0.9"/>
<path d="M363 193.15a1.7 1.7 0 1 0 3.4 0a1.7 1.7 0 1 0 -3.4 0" fill="none" stroke="#0072B2" stroke-width="0.7"/>
<text x="346.2" y="208.58" font-size="10" text-anchor="end" fill="#111">A 100 My, 100 ppm</text>
<line x1="352" y1="204.98" x2="377.3" y2="204.98" stroke="#E51E10" stroke-width="1.25" stroke-opacity="0.45"/>
<text x="346.2" y="220.41" font-size="10" text-anchor="end" fill="#111">A 1.4 Gy, 100 ppm</text>
<line x1="352" y1="216.81" x2="377.3" y2="216.81" stroke="#000000" stroke-width="0.95" stroke-opacity="0.6"/>
<text x="346.2" y="232.24" font-size="10" text-anchor="end" fill="#111">A 2.5 Gy, 100 ppm</text>
<line x1="352" y1="228.64" x2="377.3" y2="228.64" stroke="#9400D3" stroke-width="0.8" stroke-opacity="0.9"/>
<path d="M364.7 226.55L366.6 230.06L362.8 230.06z" fill="#9400D3" stroke="none"/>
<polyline points="438.7,8 438.69,10.16 438.67,12.32 438.66,14.48 438.64,16.64 438.63,18.8 438.62,20.96 438.6,23.12 438.59,25.28 438.58,27.44 438.56,29.6 438.55,31.76 438.53,33.92 438.52,36.08 438.51,38.24 438.49,40.4 438.48,42.56 438.47,44.72 438.45,46.88 438.44,49.04 438.43,49.49 438.41,53.81 438.38,58.14 438.35,62.47 438.32,66.8 438.3,71.13 438.27,75.46 438.24,79.79 438.21,84.11 438.19,88.44 438.16,92.77 438.13,97.1 438.1,101.43 438.07,105.76 438.05,110.09 438.02,114.41 437.99,118.74 437.96,123.07 437.94,127.4 437.91,131.73 437.88,136.06 437.85,140.39 437.83,144.71 437.8,149.04 437.77,153.37 437.74,157.7 437.71,162.03 437.69,166.36 437.66,170.69 437.63,175.01 437.6,179.34 437.46,183.67 437.29,188 437.13,192.33 436.96,196.66 436.8,200.99 436.63,205.31 436.46,209.64 436.3,213.97 436.13,218.3 435.97,222.63 435.8,226.96 435.63,231.29 435.47,235.61 435.3,239.94 435.14,244.27" fill="none" stroke="#9400D3" stroke-width="0.85" stroke-opacity="0.95" stroke-linejoin="round"/>
<path d="M436.5 8H440.9M438.7 5.8V10.2M436.49 10.16H440.89M438.69 7.96V12.36M436.47 12.32H440.87M438.67 10.12V14.52M436.46 14.48H440.86M438.66 12.28V16.68M436.44 16.64H440.84M438.64 14.44V18.84M436.43 18.8H440.83M438.63 16.6V21M436.42 20.96H440.82M438.62 18.76V23.16M436.4 23.12H440.8M438.6 20.92V25.32M436.39 25.28H440.79M438.59 23.08V27.48M436.38 27.44H440.78M438.58 25.24V29.64M436.36 29.6H440.76M438.56 27.4V31.8M436.35 31.76H440.75M438.55 29.56V33.96M436.33 33.92H440.73M438.53 31.72V36.12M436.32 36.08H440.72M438.52 33.88V38.28M436.31 38.24H440.71M438.51 36.04V40.44M436.29 40.4H440.69M438.49 38.2V42.6M436.28 42.56H440.68M438.48 40.36V44.76M436.27 44.72H440.67M438.47 42.52V46.92M436.25 46.88H440.65M438.45 44.68V49.08M436.24 49.04H440.64M438.44 46.84V51.24M436.23 49.49H440.63M438.43 47.29V51.69M436.21 53.81H440.61M438.41 51.61V56.01M436.18 58.14H440.58M438.38 55.94V60.34M436.15 62.47H440.55M438.35 60.27V64.67M436.12 66.8H440.52M438.32 64.6V69M436.1 71.13H440.5M438.3 68.93V73.33M436.07 75.46H440.47M438.27 73.26V77.66M436.04 79.79H440.44M438.24 77.59V81.99M436.01 84.11H440.41M438.21 81.91V86.31M435.99 88.44H440.39M438.19 86.24V90.64M435.96 92.77H440.36M438.16 90.57V94.97M435.93 97.1H440.33M438.13 94.9V99.3M435.9 101.43H440.3M438.1 99.23V103.63M435.87 105.76H440.27M438.07 103.56V107.96M435.85 110.09H440.25M438.05 107.89V112.29M435.82 114.41H440.22M438.02 112.21V116.61M435.79 118.74H440.19M437.99 116.54V120.94M435.76 123.07H440.16M437.96 120.87V125.27M435.74 127.4H440.14M437.94 125.2V129.6M435.71 131.73H440.11M437.91 129.53V133.93M435.68 136.06H440.08M437.88 133.86V138.26M435.65 140.39H440.05M437.85 138.19V142.59M435.63 144.71H440.03M437.83 142.51V146.91M435.6 149.04H440M437.8 146.84V151.24M435.57 153.37H439.97M437.77 151.17V155.57M435.54 157.7H439.94M437.74 155.5V159.9M435.51 162.03H439.91M437.71 159.83V164.23M435.49 166.36H439.89M437.69 164.16V168.56M435.46 170.69H439.86M437.66 168.49V172.89M435.43 175.01H439.83M437.63 172.81V177.21M435.4 179.34H439.8M437.6 177.14V181.54M435.26 183.67H439.66M437.46 181.47V185.87M435.09 188H439.49M437.29 185.8V190.2M434.93 192.33H439.33M437.13 190.13V194.53M434.76 196.66H439.16M436.96 194.46V198.86M434.6 200.99H439M436.8 198.79V203.19M434.43 205.31H438.83M436.63 203.11V207.51M434.26 209.64H438.66M436.46 207.44V211.84M434.1 213.97H438.5M436.3 211.77V216.17M433.93 218.3H438.33M436.13 216.1V220.5M433.77 222.63H438.17M435.97 220.43V224.83M433.6 226.96H438M435.8 224.76V229.16M433.43 231.29H437.83M435.63 229.09V233.49M433.27 235.61H437.67M435.47 233.41V237.81M433.1 239.94H437.5M435.3 237.74V242.14M432.94 244.27H437.34M435.14 242.07V246.47" fill="none" stroke="#9400D3" stroke-width="0.6"/>
<polyline points="550.48,8 549.15,10.16 551.9,12.32 553.26,14.48 558.92,16.64 560.29,18.8 559.82,20.96 560.16,23.12 560.16,25.28 562.05,27.44 563.4,29.6 564.56,31.76 563.44,33.92 565.26,36.08 566.98,38.24 568.11,40.4 566.3,42.56 565.2,44.72 564.78,46.88 565.08,49.04 564.81,49.49 565.62,53.81 567.1,58.14 567.73,62.47 566.4,66.8 565.45,71.13 566,75.46 559.84,79.79 561.09,84.11 563.4,88.44 559.09,92.77 558.6,97.1 557.46,101.43 556.33,105.76 554.77,110.09 553.34,114.41 555.11,118.74 552.6,123.07 550.47,127.4 549.74,131.73 548.7,136.06 546.96,140.39 546.11,144.71 544.16,149.04 542.51,153.37 543.4,157.7 540.53,162.03 538.61,166.36 536.74,170.69 536.61,175.01 532.13,179.34 531.4,183.67 529.99,188 528.49,192.33 528.47,196.66 525.63,200.99 524.18,205.31 522.54,209.64 519.7,213.97 517.91,218.3 516.47,222.63 515.49,226.96 513.39,231.29 510.8,235.61 508.75,239.94 506.23,244.27" fill="none" stroke="#009E73" stroke-width="0.85" stroke-opacity="0.95" stroke-linejoin="round"/>
<path d="M548.88 5.9L552.08 10.1M548.88 10.1L552.08 5.9M547.55 8.06L550.74 12.26M547.55 12.26L550.74 8.06M550.31 10.22L553.5 14.42M550.31 14.42L553.5 10.22M551.67 12.38L554.86 16.58M551.67 16.58L554.86 12.38M557.33 14.54L560.52 18.74M557.33 18.74L560.52 14.54M558.7 16.7L561.89 20.9M558.7 20.9L561.89 16.7M558.22 18.86L561.41 23.06M558.22 23.06L561.41 18.86M558.56 21.02L561.76 25.22M558.56 25.22L561.76 21.02M558.57 23.18L561.76 27.38M558.57 27.38L561.76 23.18M560.46 25.34L563.65 29.54M560.46 29.54L563.65 25.34M561.81 27.5L565 31.7M561.81 31.7L565 27.5M562.96 29.66L566.15 33.86M562.96 33.86L566.15 29.66M561.84 31.82L565.03 36.02M561.84 36.02L565.03 31.82M563.67 33.98L566.86 38.18M563.67 38.18L566.86 33.98M565.39 36.14L568.58 40.34M565.39 40.34L568.58 36.14M566.52 38.3L569.71 42.5M566.52 42.5L569.71 38.3M564.7 40.46L567.89 44.66M564.7 44.66L567.89 40.46M563.61 42.62L566.8 46.82M563.61 46.82L566.8 42.62M563.18 44.78L566.38 48.98M563.18 48.98L566.38 44.78M563.48 46.94L566.67 51.14M563.48 51.14L566.67 46.94M563.22 47.39L566.41 51.59M563.22 51.59L566.41 47.39M564.03 51.71L567.22 55.91M564.03 55.91L567.22 51.71M565.51 56.04L568.7 60.24M565.51 60.24L568.7 56.04M566.14 60.37L569.33 64.57M566.14 64.57L569.33 60.37M564.8 64.7L567.99 68.9M564.8 68.9L567.99 64.7M563.86 69.03L567.05 73.23M563.86 73.23L567.05 69.03M564.4 73.36L567.6 77.56M564.4 77.56L567.6 73.36M558.24 77.69L561.44 81.89M558.24 81.89L561.44 77.69M559.5 82.01L562.69 86.21M559.5 86.21L562.69 82.01M561.81 86.34L565 90.54M561.81 90.54L565 86.34M557.5 90.67L560.69 94.87M557.5 94.87L560.69 90.67M557 95L560.19 99.2M557 99.2L560.19 95M555.86 99.33L559.05 103.53M555.86 103.53L559.05 99.33M554.74 103.66L557.93 107.86M554.74 107.86L557.93 103.66M553.17 107.99L556.36 112.19M553.17 112.19L556.36 107.99M551.74 112.31L554.94 116.51M551.74 116.51L554.94 112.31M553.52 116.64L556.71 120.84M553.52 120.84L556.71 116.64M551 120.97L554.2 125.17M551 125.17L554.2 120.97M548.87 125.3L552.06 129.5M548.87 129.5L552.06 125.3M548.14 129.63L551.33 133.83M548.14 133.83L551.33 129.63M547.11 133.96L550.3 138.16M547.11 138.16L550.3 133.96M545.37 138.29L548.56 142.49M545.37 142.49L548.56 138.29M544.52 142.61L547.71 146.81M544.52 146.81L547.71 142.61M542.57 146.94L545.76 151.14M542.57 151.14L545.76 146.94M540.91 151.27L544.1 155.47M540.91 155.47L544.1 151.27M541.8 155.6L544.99 159.8M541.8 159.8L544.99 155.6M538.93 159.93L542.12 164.13M538.93 164.13L542.12 159.93M537.01 164.26L540.2 168.46M537.01 168.46L540.2 164.26M535.14 168.59L538.34 172.79M535.14 172.79L538.34 168.59M535.02 172.91L538.21 177.11M535.02 177.11L538.21 172.91M530.53 177.24L533.73 181.44M530.53 181.44L533.73 177.24M529.8 181.57L532.99 185.77M529.8 185.77L532.99 181.57M528.39 185.9L531.58 190.1M528.39 190.1L531.58 185.9M526.9 190.23L530.09 194.43M526.9 194.43L530.09 190.23M526.87 194.56L530.06 198.76M526.87 198.76L530.06 194.56M524.04 198.89L527.23 203.09M524.04 203.09L527.23 198.89M522.59 203.21L525.78 207.41M522.59 207.41L525.78 203.21M520.95 207.54L524.14 211.74M520.95 211.74L524.14 207.54M518.1 211.87L521.3 216.07M518.1 216.07L521.3 211.87M516.31 216.2L519.5 220.4M516.31 220.4L519.5 216.2M514.87 220.53L518.07 224.73M514.87 224.73L518.07 220.53M513.9 224.86L517.09 229.06M513.9 229.06L517.09 224.86M511.8 229.19L514.99 233.39M511.8 233.39L514.99 229.19M509.21 233.51L512.4 237.71M509.21 237.71L512.4 233.51M507.15 237.84L510.34 242.04M507.15 242.04L510.34 237.84M504.64 242.17L507.83 246.37M504.64 246.37L507.83 242.17" fill="none" stroke="#009E73" stroke-width="0.75"/>
<polyline points="644.84,8 647.41,10.16 647.3,12.32 648.08,14.48 659.48,16.64 658.51,18.8 660.66,20.96 660.16,23.12 662.21,25.28 666.59,27.44 667.4,29.6 666.89,31.76 668.54,33.92 668.3,36.08 672.92,38.24 665.71,40.4 668.63,42.56 673.11,44.72 673.58,46.88 672.95,49.04 672,49.49 670.83,53.81 670.77,58.14 675.91,62.47 672.94,66.8 672.76,71.13 673.48,75.46 662.26,79.79 663.91,84.11 667.64,88.44 661.95,92.77 661.32,97.1 657.45,101.43 657.02,105.76 653.89,110.09 652.27,114.41 653.01,118.74 647.86,123.07 646.74,127.4 644.22,131.73 641.32,136.06 639.39,140.39 636.01,144.71 634.77,149.04 630.57,153.37 633,157.7 627.83,162.03 623.12,166.36 619.72,170.69 620.03,175.01 613.8,179.34 609.66,183.67 608.85,188 606.33,192.33 606.26,196.66 599.53,200.99 598.75,205.31 597.43,209.64 591.99,213.97 588.51,218.3 584.67,222.63 582.78,226.96 579.45,231.29 575.67,235.61 569.94,239.94 566.43,244.27" fill="none" stroke="#56B4E9" stroke-width="0.85" stroke-opacity="0.95" stroke-linejoin="round"/>
<path d="M643.24 8H646.43M644.84 5.9V10.1M643.24 5.9L646.43 10.1M643.24 10.1L646.43 5.9M645.81 10.16H649M647.41 8.06V12.26M645.81 8.06L649 12.26M645.81 12.26L649 8.06M645.71 12.32H648.9M647.3 10.22V14.42M645.71 10.22L648.9 14.42M645.71 14.42L648.9 10.22M646.48 14.48H649.68M648.08 12.38V16.58M646.48 12.38L649.68 16.58M646.48 16.58L649.68 12.38M657.89 16.64H661.08M659.48 14.54V18.74M657.89 14.54L661.08 18.74M657.89 18.74L661.08 14.54M656.92 18.8H660.11M658.51 16.7V20.9M656.92 16.7L660.11 20.9M656.92 20.9L660.11 16.7M659.06 20.96H662.25M660.66 18.86V23.06M659.06 18.86L662.25 23.06M659.06 23.06L662.25 18.86M658.56 23.12H661.76M660.16 21.02V25.22M658.56 21.02L661.76 25.22M658.56 25.22L661.76 21.02M660.61 25.28H663.81M662.21 23.18V27.38M660.61 23.18L663.81 27.38M660.61 27.38L663.81 23.18M665 27.44H668.19M666.59 25.34V29.54M665 25.34L668.19 29.54M665 29.54L668.19 25.34M665.8 29.6H668.99M667.4 27.5V31.7M665.8 27.5L668.99 31.7M665.8 31.7L668.99 27.5M665.29 31.76H668.48M666.89 29.66V33.86M665.29 29.66L668.48 33.86M665.29 33.86L668.48 29.66M666.94 33.92H670.13M668.54 31.82V36.02M666.94 31.82L670.13 36.02M666.94 36.02L670.13 31.82M666.7 36.08H669.9M668.3 33.98V38.18M666.7 33.98L669.9 38.18M666.7 38.18L669.9 33.98M671.32 38.24H674.52M672.92 36.14V40.34M671.32 36.14L674.52 40.34M671.32 40.34L674.52 36.14M664.12 40.4H667.31M665.71 38.3V42.5M664.12 38.3L667.31 42.5M664.12 42.5L667.31 38.3M667.03 42.56H670.23M668.63 40.46V44.66M667.03 40.46L670.23 44.66M667.03 44.66L670.23 40.46M671.52 44.72H674.71M673.11 42.62V46.82M671.52 42.62L674.71 46.82M671.52 46.82L674.71 42.62M671.98 46.88H675.17M673.58 44.78V48.98M671.98 44.78L675.17 48.98M671.98 48.98L675.17 44.78M671.36 49.04H674.55M672.95 46.94V51.14M671.36 46.94L674.55 51.14M671.36 51.14L674.55 46.94M670.4 49.49H673.59M672 47.39V51.59M670.4 47.39L673.59 51.59M670.4 51.59L673.59 47.39M669.23 53.81H672.42M670.83 51.71V55.91M669.23 51.71L672.42 55.91M669.23 55.91L672.42 51.71M669.18 58.14H672.37M670.77 56.04V60.24M669.18 56.04L672.37 60.24M669.18 60.24L672.37 56.04M674.31 62.47H677.51M675.91 60.37V64.57M674.31 60.37L677.51 64.57M674.31 64.57L677.51 60.37M671.34 66.8H674.53M672.94 64.7V68.9M671.34 64.7L674.53 68.9M671.34 68.9L674.53 64.7M671.17 71.13H674.36M672.76 69.03V73.23M671.17 69.03L674.36 73.23M671.17 73.23L674.36 69.03M671.89 75.46H675.08M673.48 73.36V77.56M671.89 73.36L675.08 77.56M671.89 77.56L675.08 73.36M660.66 79.79H663.85M662.26 77.69V81.89M660.66 77.69L663.85 81.89M660.66 81.89L663.85 77.69M662.31 84.11H665.51M663.91 82.01V86.21M662.31 82.01L665.51 86.21M662.31 86.21L665.51 82.01M666.05 88.44H669.24M667.64 86.34V90.54M666.05 86.34L669.24 90.54M666.05 90.54L669.24 86.34M660.35 92.77H663.54M661.95 90.67V94.87M660.35 90.67L663.54 94.87M660.35 94.87L663.54 90.67M659.73 97.1H662.92M661.32 95V99.2M659.73 95L662.92 99.2M659.73 99.2L662.92 95M655.85 101.43H659.04M657.45 99.33V103.53M655.85 99.33L659.04 103.53M655.85 103.53L659.04 99.33M655.43 105.76H658.62M657.02 103.66V107.86M655.43 103.66L658.62 107.86M655.43 107.86L658.62 103.66M652.29 110.09H655.48M653.89 107.99V112.19M652.29 107.99L655.48 112.19M652.29 112.19L655.48 107.99M650.68 114.41H653.87M652.27 112.31V116.51M650.68 112.31L653.87 116.51M650.68 116.51L653.87 112.31M651.41 118.74H654.6M653.01 116.64V120.84M651.41 116.64L654.6 120.84M651.41 120.84L654.6 116.64M646.26 123.07H649.45M647.86 120.97V125.17M646.26 120.97L649.45 125.17M646.26 125.17L649.45 120.97M645.15 127.4H648.34M646.74 125.3V129.5M645.15 125.3L648.34 129.5M645.15 129.5L648.34 125.3M642.63 131.73H645.82M644.22 129.63V133.83M642.63 129.63L645.82 133.83M642.63 133.83L645.82 129.63M639.72 136.06H642.91M641.32 133.96V138.16M639.72 133.96L642.91 138.16M639.72 138.16L642.91 133.96M637.8 140.39H640.99M639.39 138.29V142.49M637.8 138.29L640.99 142.49M637.8 142.49L640.99 138.29M634.42 144.71H637.61M636.01 142.61V146.81M634.42 142.61L637.61 146.81M634.42 146.81L637.61 142.61M633.17 149.04H636.36M634.77 146.94V151.14M633.17 146.94L636.36 151.14M633.17 151.14L636.36 146.94M628.97 153.37H632.16M630.57 151.27V155.47M628.97 151.27L632.16 155.47M628.97 155.47L632.16 151.27M631.4 157.7H634.59M633 155.6V159.8M631.4 155.6L634.59 159.8M631.4 159.8L634.59 155.6M626.23 162.03H629.42M627.83 159.93V164.13M626.23 159.93L629.42 164.13M626.23 164.13L629.42 159.93M621.52 166.36H624.72M623.12 164.26V168.46M621.52 164.26L624.72 168.46M621.52 168.46L624.72 164.26M618.13 170.69H621.32M619.72 168.59V172.79M618.13 168.59L621.32 172.79M618.13 172.79L621.32 168.59M618.43 175.01H621.62M620.03 172.91V177.11M618.43 172.91L621.62 177.11M618.43 177.11L621.62 172.91M612.21 179.34H615.4M613.8 177.24V181.44M612.21 177.24L615.4 181.44M612.21 181.44L615.4 177.24M608.07 183.67H611.26M609.66 181.57V185.77M608.07 181.57L611.26 185.77M608.07 185.77L611.26 181.57M607.26 188H610.45M608.85 185.9V190.1M607.26 185.9L610.45 190.1M607.26 190.1L610.45 185.9M604.73 192.33H607.92M606.33 190.23V194.43M604.73 190.23L607.92 194.43M604.73 194.43L607.92 190.23M604.66 196.66H607.85M606.26 194.56V198.76M604.66 194.56L607.85 198.76M604.66 198.76L607.85 194.56M597.93 200.99H601.12M599.53 198.89V203.09M597.93 198.89L601.12 203.09M597.93 203.09L601.12 198.89M597.15 205.31H600.35M598.75 203.21V207.41M597.15 203.21L600.35 207.41M597.15 207.41L600.35 203.21M595.84 209.64H599.03M597.43 207.54V211.74M595.84 207.54L599.03 211.74M595.84 211.74L599.03 207.54M590.4 213.97H593.59M591.99 211.87V216.07M590.4 211.87L593.59 216.07M590.4 216.07L593.59 211.87M586.92 218.3H590.11M588.51 216.2V220.4M586.92 216.2L590.11 220.4M586.92 220.4L590.11 216.2M583.07 222.63H586.26M584.67 220.53V224.73M583.07 220.53L586.26 224.73M583.07 224.73L586.26 220.53M581.19 226.96H584.38M582.78 224.86V229.06M581.19 224.86L584.38 229.06M581.19 229.06L584.38 224.86M577.85 231.29H581.04M579.45 229.19V233.39M577.85 229.19L581.04 233.39M577.85 233.39L581.04 229.19M574.08 235.61H577.27M575.67 233.51V237.71M574.08 233.51L577.27 237.71M574.08 237.71L577.27 233.51M568.35 239.94H571.54M569.94 237.84V242.04M568.35 237.84L571.54 242.04M568.35 242.04L571.54 237.84M564.83 244.27H568.02M566.43 242.17V246.37M564.83 242.17L568.02 246.37M564.83 246.37L568.02 242.17" fill="none" stroke="#56B4E9" stroke-width="0.75"/>
<rect x="429.5" y="6.2" width="254.79999999999995" height="242.4" fill="none" stroke="#7c7c7c" stroke-width="1"/>
<path d="M456.21 248.6v-2.4M456.21 6.2v2.4M483.02 248.6v-2.4M483.02 6.2v2.4M509.83 248.6v-2.4M509.83 6.2v2.4M536.64 248.6v-2.4M536.64 6.2v2.4M563.45 248.6v-2.4M563.45 6.2v2.4M590.26 248.6v-2.4M590.26 6.2v2.4M617.07 248.6v-2.4M617.07 6.2v2.4M643.88 248.6v-2.4M643.88 6.2v2.4M670.69 248.6v-2.4M670.69 6.2v2.4M429.5 49.49h2.2M684.3 49.49h-2.2M429.5 92.77h2.2M684.3 92.77h-2.2M429.5 136.06h2.2M684.3 136.06h-2.2M429.5 179.34h2.2M684.3 179.34h-2.2M429.5 222.63h2.2M684.3 222.63h-2.2" stroke="#7c7c7c" stroke-width="0.9" fill="none"/>
<text transform="translate(430.9,263.4) scale(0.76,1)" font-size="11.4" text-anchor="middle" fill="#111">0</text>
<text transform="translate(457.71,263.4) scale(0.76,1)" font-size="11.4" text-anchor="middle" fill="#111">200</text>
<text transform="translate(484.52,263.4) scale(0.76,1)" font-size="11.4" text-anchor="middle" fill="#111">400</text>
<text transform="translate(511.33,263.4) scale(0.76,1)" font-size="11.4" text-anchor="middle" fill="#111">600</text>
<text transform="translate(538.14,263.4) scale(0.76,1)" font-size="11.4" text-anchor="middle" fill="#111">800</text>
<text transform="translate(564.95,263.4) scale(0.76,1)" font-size="11.4" text-anchor="middle" fill="#111">1000</text>
<text transform="translate(591.76,263.4) scale(0.76,1)" font-size="11.4" text-anchor="middle" fill="#111">1200</text>
<text transform="translate(618.57,263.4) scale(0.76,1)" font-size="11.4" text-anchor="middle" fill="#111">1400</text>
<text transform="translate(645.38,263.4) scale(0.76,1)" font-size="11.4" text-anchor="middle" fill="#111">1600</text>
<text transform="translate(672.19,263.4) scale(0.76,1)" font-size="11.4" text-anchor="middle" fill="#111">1800</text>
<text transform="translate(428.2,10.1) scale(0.76,1)" font-size="11.4" text-anchor="end" fill="#111">0</text>
<text transform="translate(428.2,53.39) scale(0.76,1)" font-size="11.4" text-anchor="end" fill="#111">10</text>
<text transform="translate(428.2,96.67) scale(0.76,1)" font-size="11.4" text-anchor="end" fill="#111">20</text>
<text transform="translate(428.2,139.96) scale(0.76,1)" font-size="11.4" text-anchor="end" fill="#111">30</text>
<text transform="translate(428.2,183.24) scale(0.76,1)" font-size="11.4" text-anchor="end" fill="#111">40</text>
<text transform="translate(428.2,226.53) scale(0.76,1)" font-size="11.4" text-anchor="end" fill="#111">50</text>
<text transform="translate(412.3,127.3) scale(0.71,1) rotate(-90)" font-size="11.9" text-anchor="middle" fill="#111">Depth (cm)</text>
<text transform="translate(557.2,277.7) scale(0.76,1)" font-size="11.4" text-anchor="middle" fill="#111">δ<tspan dy="-3.6" font-size="8.8">15</tspan><tspan dy="3.6">N</tspan></text>
<text transform="translate(522.5,28.5) scale(0.76,1)" font-size="11.0" text-anchor="end" fill="#111">A 100 My, 10 ppm</text>
<line x1="527.2" y1="24.6" x2="547.2" y2="24.6" stroke="#9400D3" stroke-width="0.9"/>
<path d="M535.53 24.6H538.87M537.2 22.4V26.8" fill="none" stroke="#9400D3" stroke-width="0.8"/>
<text transform="translate(522.5,41.65) scale(0.76,1)" font-size="11.0" text-anchor="end" fill="#111">A 1.4 Gy, 10 ppm</text>
<line x1="527.2" y1="37.75" x2="547.2" y2="37.75" stroke="#009E73" stroke-width="0.9"/>
<path d="M535.53 35.55L538.87 39.95M535.53 39.95L538.87 35.55" fill="none" stroke="#009E73" stroke-width="0.8"/>
<text transform="translate(522.5,54.8) scale(0.76,1)" font-size="11.0" text-anchor="end" fill="#111">A 2.5 Gy, 10 ppm</text>
<line x1="527.2" y1="50.9" x2="547.2" y2="50.9" stroke="#56B4E9" stroke-width="0.9"/>
<path d="M535.53 50.9H538.87M537.2 48.7V53.1M535.53 48.7L538.87 53.1M535.53 53.1L538.87 48.7" fill="none" stroke="#56B4E9" stroke-width="0.8"/>
</svg></body></html>
